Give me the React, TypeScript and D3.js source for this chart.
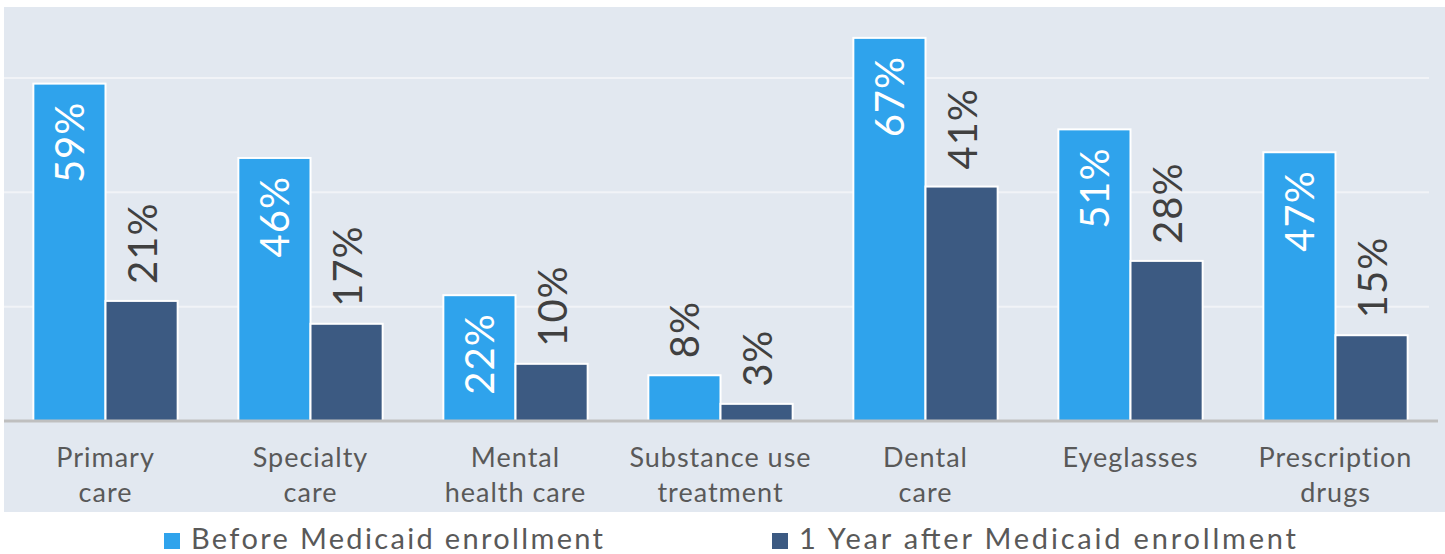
import React from 'react';
import * as d3 from 'd3';

// categories and series values (percent)
const categories = [
  ['Primary', 'care'],
  ['Specialty', 'care'],
  ['Mental', 'health care'],
  ['Substance use', 'treatment'],
  ['Dental', 'care'],
  ['Eyeglasses'],
  ['Prescription', 'drugs'],
];
const beforeValues = [59, 46, 22, 8, 67, 51, 47];
const afterValues = [21, 17, 10, 3, 41, 28, 15];
const seriesNames = ['Before Medicaid enrollment', '1 Year after Medicaid enrollment'];
const gridTicks = [20, 40, 60];

const WIDTH = 1445;
const HEIGHT = 554;
const BLUE = '#2FA3EC';
const NAVY = '#3C5A82';
const FONT = 'Lato, "Open Sans", sans-serif';

const App: React.FC = () => {
  const plot = { left: 4, top: 7, right: 1445, bottom: 512 };
  const axisY = 421;

  const x = d3.scaleBand<number>()
    .domain(d3.range(categories.length))
    .range([3, 1438])
    .paddingInner(0.296)
    .paddingOuter(0.148);

  const inner = d3.scaleBand<number>()
    .domain([0, 1])
    .range([0, x.bandwidth()]);

  // 0% sits on the axis, the top of the plot area reads ~72.4%
  const y = d3.scaleLinear().domain([0, 72.4]).range([axisY, plot.top]);

  const series = [beforeValues, afterValues];
  const colors = [BLUE, NAVY];

  // legend placement (swatch x, text width)
  const legendX = [164, 772];
  const legendW = [412, 497];

  return (
    <svg
      width={WIDTH}
      height={HEIGHT}
      style={{ position: 'absolute', left: 0, top: 0, background: '#fff' }}
      fontFamily={FONT}
    >
      <rect
        x={plot.left}
        y={plot.top}
        width={plot.right - plot.left}
        height={plot.bottom - plot.top}
        fill="#E2E8F0"
      />
      {gridTicks.map(t => (
        <line
          key={t}
          x1={plot.left}
          x2={1429}
          y1={y(t)}
          y2={y(t)}
          stroke="#F1F3F7"
          strokeWidth={2}
        />
      ))}

      {categories.map((_, i) => (
        <g key={i} transform={`translate(${x(i)},0)`}>
          {series.map((vals, s) => {
            const v = vals[i];
            const bx = inner(s)!;
            const bw = inner.bandwidth();
            const top = y(v);
            const cx = bx + bw / 2;
            const inside = s === 0 && v >= 10;
            return (
              <g key={s}>
                <rect
                  x={bx}
                  y={top}
                  width={bw}
                  height={axisY - top}
                  fill={colors[s]}
                  stroke="#fff"
                  strokeWidth={2}
                />
                <text
                  transform={`translate(${cx},${inside ? top + 18 : top - 17}) rotate(-90)`}
                  textAnchor={inside ? 'end' : 'start'}
                  dominantBaseline="central"
                  fontSize={40}
                  letterSpacing={1}
                  fill={inside ? '#fff' : '#404040'}
                >
                  {v}%
                </text>
              </g>
            );
          })}
        </g>
      ))}

      <line x1={plot.left} x2={1438} y1={axisY} y2={axisY} stroke="#BFBFBF" strokeWidth={3} />

      {categories.map((lines, i) => (
        <text
          key={i}
          x={x(i)! + x.bandwidth() / 2}
          textAnchor="middle"
          fontSize={27}
          fill="#595959"
          letterSpacing={1}
        >
          {lines.map((ln, k) => (
            <tspan key={k} x={x(i)! + x.bandwidth() / 2} y={467 + k * 35}>{ln}</tspan>
          ))}
        </text>
      ))}

      {seriesNames.map((name, s) => {
        const lx = legendX[s];
        return (
          <g key={name}>
            <rect x={lx} y={533} width={16} height={16} fill={colors[s]} />
            <text
              x={lx + 27}
              y={549}
              fontSize={29}
              fill="#595959"
              textLength={legendW[s]}
              lengthAdjust="spacing"
            >
              {name}
            </text>
          </g>
        );
      })}
    </svg>
  );
};

export default App;
